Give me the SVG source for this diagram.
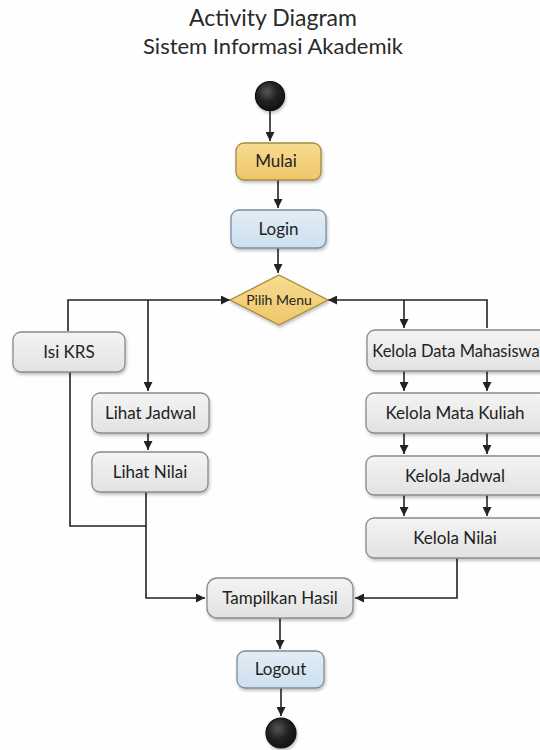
<svg xmlns="http://www.w3.org/2000/svg" width="540" height="750" viewBox="0 0 540 750">
<defs>
<style>
text{font-family:Lato,"Open Sans","Liberation Sans",sans-serif;fill:#222;text-anchor:middle}
.t{font-size:22px;fill:#2a2a2a}
.l{font-size:17px}
.box{fill:url(#g);stroke:#8a8a8a;stroke-width:1.3}
.blue{fill:url(#gb);stroke:#7a8ea3;stroke-width:1.3}
.gold{fill:url(#gy);stroke:#a8893c;stroke-width:1.3}
.c{fill:none;stroke:#222;stroke-width:1.6}
</style>
<linearGradient id="g" x1="0" y1="0" x2="0" y2="1"><stop offset="0" stop-color="#f4f4f4"/><stop offset="1" stop-color="#e2e2e2"/></linearGradient>
<linearGradient id="gb" x1="0" y1="0" x2="0" y2="1"><stop offset="0" stop-color="#e2edf6"/><stop offset="1" stop-color="#cddfee"/></linearGradient>
<linearGradient id="gy" x1="0" y1="0" x2="0" y2="1"><stop offset="0" stop-color="#f8dc90"/><stop offset="1" stop-color="#eec66a"/></linearGradient>
<radialGradient id="gc" cx="0.4" cy="0.35" r="0.7"><stop offset="0" stop-color="#555"/><stop offset="0.5" stop-color="#222"/><stop offset="1" stop-color="#111"/></radialGradient>
<filter id="sh" x="-10%" y="-10%" width="130%" height="140%"><feDropShadow dx="1" dy="2" stdDeviation="1.5" flood-color="#000" flood-opacity="0.25"/></filter>
<marker id="a" viewBox="0 0 10 10" refX="10" refY="5" markerWidth="9" markerHeight="9" markerUnits="userSpaceOnUse" orient="auto"><path d="M0,0L10,5L0,10z" fill="#222"/></marker>
</defs>
<rect width="540" height="750" fill="#fefefe"/>
<text class="t" x="273" y="26" style="font-size:23px">Activity Diagram</text>
<text class="t" x="273" y="54">Sistem Informasi Akademik</text>

<g id="connectors">
<path class="c" d="M270,110V141" marker-end="url(#a)"/>
<path class="c" d="M278,180V208" marker-end="url(#a)"/>
<path class="c" d="M278,248V273" marker-end="url(#a)"/>
<path class="c" d="M68,331V300H230" marker-end="url(#a)"/>
<path class="c" d="M148,300V391" marker-end="url(#a)"/>
<path class="c" d="M487,328V300H328" marker-end="url(#a)"/>
<path class="c" d="M404,300V328" marker-end="url(#a)"/>
<path class="c" d="M148,433V450" marker-end="url(#a)"/>
<path class="c" d="M70,372V526H146"/>
<path class="c" d="M146,492V598H205" marker-end="url(#a)"/>
<path class="c" d="M404,371V391" marker-end="url(#a)"/>
<path class="c" d="M487,371V391" marker-end="url(#a)"/>
<path class="c" d="M404,433V454" marker-end="url(#a)"/>
<path class="c" d="M487,433V454" marker-end="url(#a)"/>
<path class="c" d="M404,495V516" marker-end="url(#a)"/>
<path class="c" d="M487,495V516" marker-end="url(#a)"/>
<path class="c" d="M457,558V598H355" marker-end="url(#a)"/>
<path class="c" d="M280,618V649" marker-end="url(#a)"/>
<path class="c" d="M281,688V716" marker-end="url(#a)"/>
</g>

<g id="start"><circle cx="270" cy="96" r="14.5" fill="url(#gc)" stroke="#111" stroke-width="1.2" filter="url(#sh)"/></g>
<g id="mulai"><rect class="gold" x="236" y="143" width="85" height="37" rx="8" filter="url(#sh)"/><text class="l" x="276" y="167">Mulai</text></g>
<g id="login"><rect class="blue" x="231" y="210" width="95" height="38" rx="8" filter="url(#sh)"/><text class="l" x="278.5" y="235">Login</text></g>
<g id="pilih"><path class="gold" d="M279,275L328,300L279,325L230,300z" filter="url(#sh)"/><text x="279" y="305" style="font-size:14px">Pilih Menu</text></g>
<g id="isikrs"><rect class="box" x="13" y="332" width="112" height="40" rx="8" filter="url(#sh)"/><text class="l" x="69" y="358">Isi KRS</text></g>
<g id="lihatjadwal"><rect class="box" x="92" y="393" width="117" height="40" rx="8" filter="url(#sh)"/><text class="l" x="150.5" y="419">Lihat Jadwal</text></g>
<g id="lihatnilai"><rect class="box" x="92" y="452" width="116" height="40" rx="8" filter="url(#sh)"/><text class="l" x="150" y="478">Lihat Nilai</text></g>
<g id="keloladata"><rect class="box" x="367" y="330" width="182" height="41" rx="8" filter="url(#sh)"/><text class="l" x="456" y="357" style="font-size:16.5px">Kelola Data Mahasiswa</text></g>
<g id="kelolamk"><rect class="box" x="366" y="393" width="183" height="40" rx="8" filter="url(#sh)"/><text class="l" x="455" y="419">Kelola Mata Kuliah</text></g>
<g id="kelolajadwal"><rect class="box" x="366" y="456" width="183" height="39" rx="8" filter="url(#sh)"/><text class="l" x="455" y="482">Kelola Jadwal</text></g>
<g id="kelolanilai"><rect class="box" x="366" y="518" width="183" height="40" rx="8" filter="url(#sh)"/><text class="l" x="455" y="544">Kelola Nilai</text></g>
<g id="tampilkan"><rect class="box" x="207" y="578" width="146" height="40" rx="10" filter="url(#sh)"/><text class="l" x="280" y="604">Tampilkan Hasil</text></g>
<g id="logout"><rect class="blue" x="237" y="651" width="87" height="37" rx="8" filter="url(#sh)"/><text class="l" x="280.5" y="675">Logout</text></g>
<g id="end"><circle cx="281" cy="733" r="15" fill="url(#gc)" stroke="#111" stroke-width="1.2" filter="url(#sh)"/></g>
</svg>
